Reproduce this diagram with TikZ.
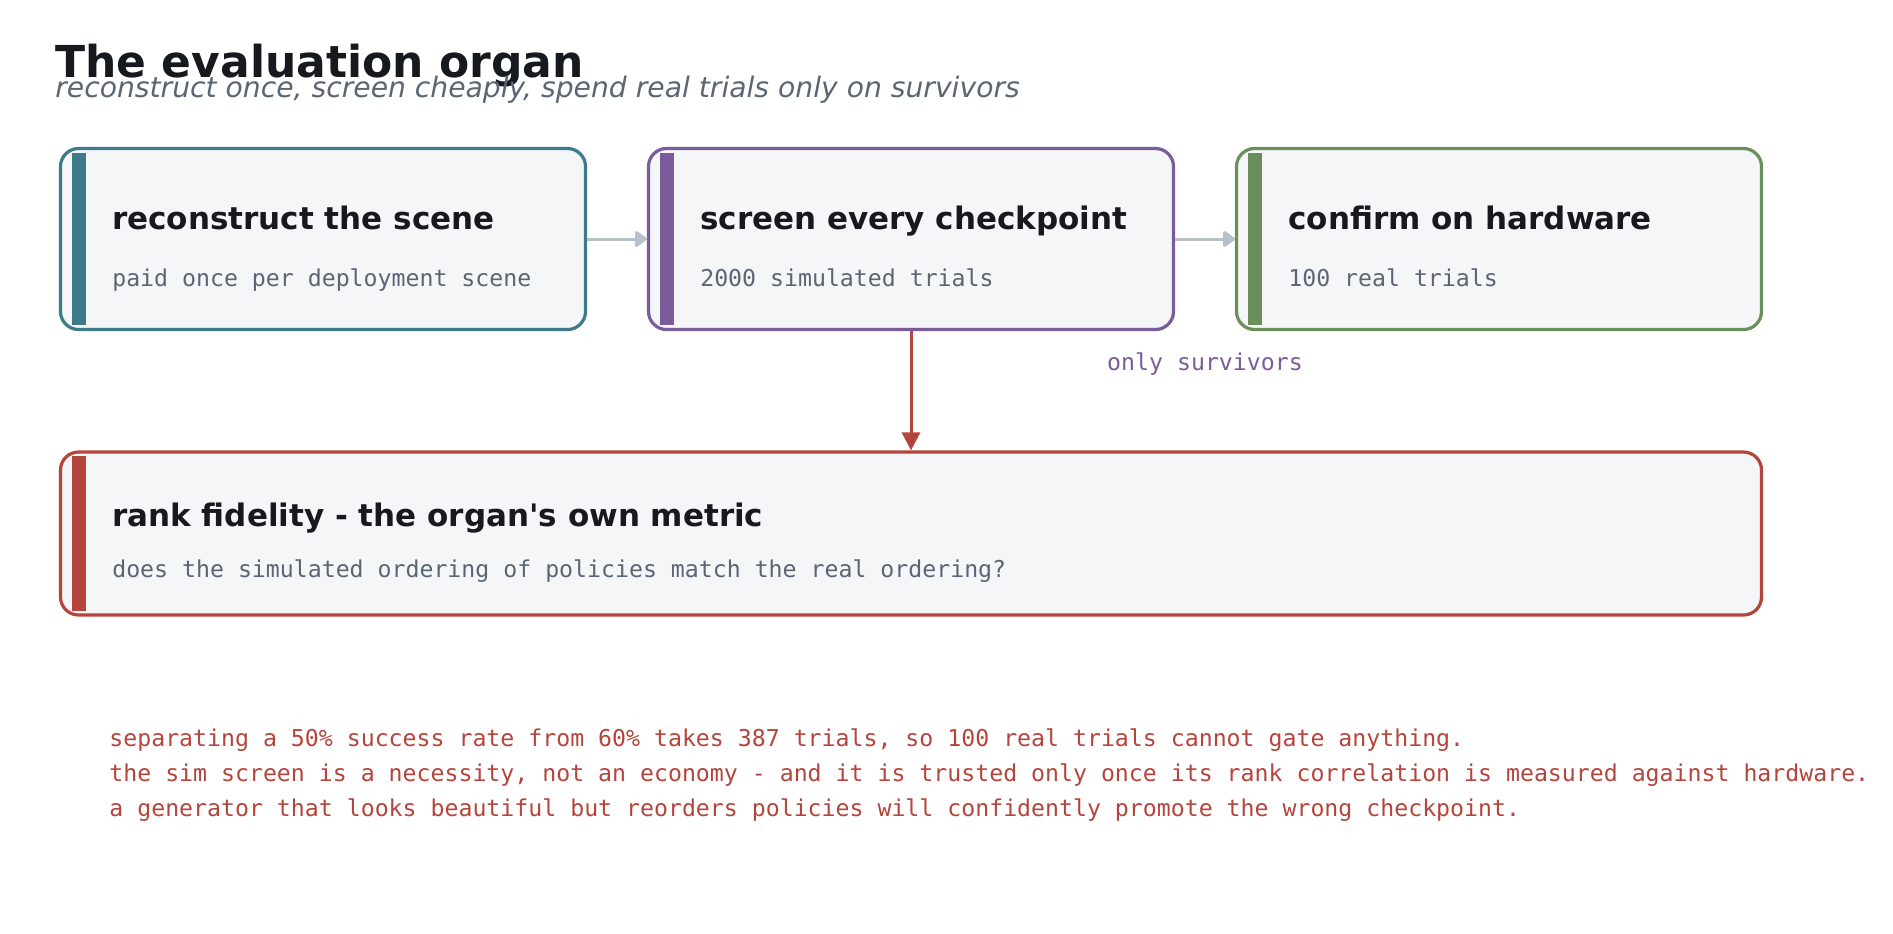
\documentclass[tikz,border=0pt]{standalone}
\usepackage{fontspec}
\setmainfont{DejaVu Sans}[Ligatures=TeXOff]
\newfontfamily\monofont{DejaVu Sans Mono}
\usepackage{tikz}
\usetikzlibrary{arrows.meta,positioning}
\definecolor{orgteal}{HTML}{3E7B89}
\definecolor{orgpurple}{HTML}{7B5B9A}
\definecolor{orggreen}{HTML}{6B8F5B}
\definecolor{orgred}{HTML}{B5453C}
\definecolor{boxfill}{HTML}{F4F6F8}
\definecolor{inkdark}{HTML}{16191D}
\definecolor{inkgray}{HTML}{5B6573}
\definecolor{flowgray}{HTML}{B8C1CA}

\begin{document}
\begin{tikzpicture}[
x=0.5pt, y=-0.5pt,
stage/.style={draw=#1, line width=1.6pt, fill=boxfill, rounded corners=9pt,
  minimum width=262.5pt, minimum height=90.5pt, inner sep=0pt},
head/.style={anchor=base west, inner sep=0pt, text=inkdark,
  font=\fontsize{15.5}{18}\selectfont\bfseries},
note/.style={anchor=base west, inner sep=0pt, text=inkgray,
  font=\monofont\fontsize{11.6}{14}\selectfont},
flow/.style={-{Triangle[length=6.5pt,width=9pt,round]}, line width=1.5pt, color=flowgray},
]
    \useasboundingbox (0,0) rectangle (1893,933);

    % Title
    \node[anchor=base west, inner sep=0pt, text=inkdark,
        font=\fontsize{22}{26}\selectfont\bfseries] (title) at (55,77) {The evaluation organ};
    \node[anchor=base west, inner sep=0pt, text=inkgray,
        font=\fontsize{14.1}{17}\selectfont\itshape] (subtitle) at (55,97)
        {reconstruct once, screen cheaply, spend real trials only on survivors};

    % Stages
    \node[stage=orgteal] (recon) at (323,239) {};
    \node[stage=orgpurple] (screen) at (911,239) {};
    \node[stage=orggreen] (confirm) at (1499,239) {};
    \node[stage=orgred, minimum width=850.5pt, minimum height=81.5pt] (rank) at (911,533.5) {};

    \foreach \s/\c in {recon/orgteal, screen/orgpurple, confirm/orggreen, rank/orgred}
        \fill[\c] ([shift={(13,6)}]\s.north west) rectangle ([shift={(27,-6)}]\s.south west);

    \node[head] (recon-h) at ([shift={(53,82.5)}]recon.north west) {reconstruct the scene};
    \node[note] (recon-n) at ([shift={(53,139.5)}]recon.north west) {paid once per deployment scene};
    \node[head] (screen-h) at ([shift={(53,82.5)}]screen.north west) {screen every checkpoint};
    \node[note] (screen-n) at ([shift={(53,139.5)}]screen.north west) {2000 simulated trials};
    \node[head] (confirm-h) at ([shift={(53,82.5)}]confirm.north west) {confirm on hardware};
    \node[note] (confirm-n) at ([shift={(53,139.5)}]confirm.north west) {100 real trials};
    \node[head] (rank-h) at ([shift={(53,76)}]rank.north west) {rank fidelity - the organ's own metric};
    \node[note] (rank-n) at ([shift={(53,127)}]rank.north west)
        {does the simulated ordering of policies match the real ordering?};

    % Connectors
    \draw[flow] (recon) -- (screen);
    \draw[flow] (screen) -- (confirm)
        node[midway, yshift=-62.5pt, note, anchor=center, text=orgpurple] (survivors) {only survivors};
    \draw[flow, color=orgred, -{Triangle[length=9pt,width=9pt]}] (screen) -- (rank);

    % Footnote
    \node[note, text=orgred] (fn1) at (109,746)
        {separating a 50\% success rate from 60\% takes 387 trials, so 100 real trials cannot gate anything.};
    \node[note, text=orgred] (fn2) at (109,781)
        {the sim screen is a necessity, not an economy - and it is trusted only once its rank correlation is measured against hardware.};
    \node[note, text=orgred] (fn3) at (109,816)
        {a generator that looks beautiful but reorders policies will confidently promote the wrong checkpoint.};

\end{tikzpicture}
\end{document}
